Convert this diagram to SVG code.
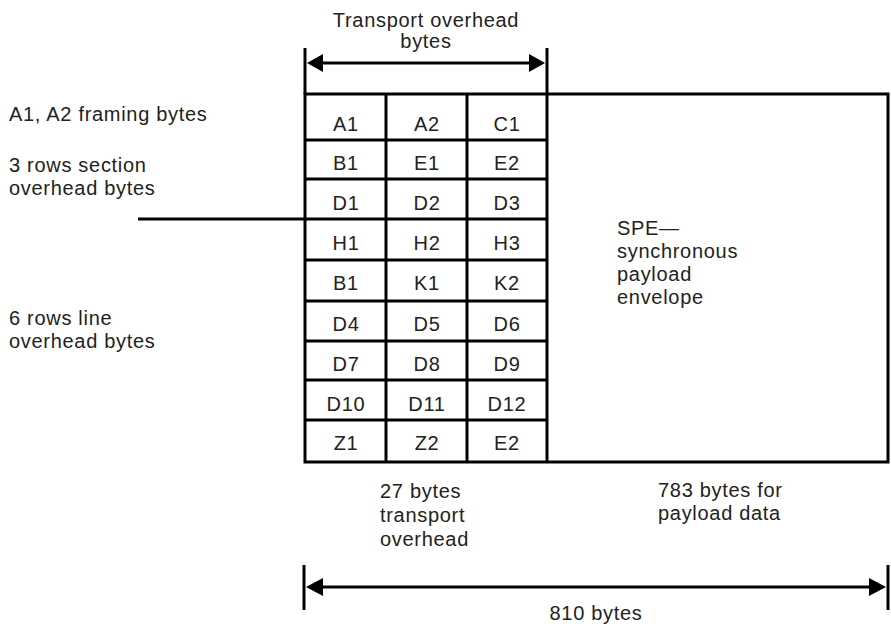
<svg xmlns="http://www.w3.org/2000/svg" width="891" height="624" viewBox="0 0 891 624">
<style>
text{font-family:"Liberation Sans",Arial,Helvetica,sans-serif;font-size:20px;fill:#222;letter-spacing:0.7px}
.c{text-anchor:middle}
.ln{stroke:#000;stroke-width:3;fill:none}
.ah{fill:#000;stroke:none}
</style>
<rect width="891" height="624" fill="#fff"/>
<g id="transport-overhead-label">
<text class="c" x="426" y="27">Transport overhead</text>
<text class="c" x="426" y="48">bytes</text>
</g>
<g id="left-labels">
<text x="9" y="121">A1, A2 framing bytes</text>
<text x="9" y="172">3 rows section</text>
<text x="9" y="195">overhead bytes</text>
<text x="9" y="325">6 rows line</text>
<text x="9" y="348">overhead bytes</text>
</g>
<g id="frame">
<rect class="ln" x="305" y="94" width="583" height="368"/>
<line class="ln" x1="386" y1="94" x2="386" y2="462"/>
<line class="ln" x1="467" y1="94" x2="467" y2="462"/>
<line class="ln" x1="547" y1="94" x2="547" y2="462"/>
<path class="ln" d="M305 140H547M305 179H547M138 219H547M305 260H547M305 301H547M305 341H547M305 380H547M305 420H547"/>
</g>
<g id="cells" class="cells">
<text class="c" x="346" y="131">A1</text><text class="c" x="427" y="131">A2</text><text class="c" x="507" y="131">C1</text>
<text class="c" x="346" y="170">B1</text><text class="c" x="427" y="170">E1</text><text class="c" x="507" y="170">E2</text>
<text class="c" x="346" y="210">D1</text><text class="c" x="427" y="210">D2</text><text class="c" x="507" y="210">D3</text>
<text class="c" x="346" y="250">H1</text><text class="c" x="427" y="250">H2</text><text class="c" x="507" y="250">H3</text>
<text class="c" x="346" y="290">B1</text><text class="c" x="427" y="290">K1</text><text class="c" x="507" y="290">K2</text>
<text class="c" x="346" y="331">D4</text><text class="c" x="427" y="331">D5</text><text class="c" x="507" y="331">D6</text>
<text class="c" x="346" y="371">D7</text><text class="c" x="427" y="371">D8</text><text class="c" x="507" y="371">D9</text>
<text class="c" x="346" y="411">D10</text><text class="c" x="427" y="411">D11</text><text class="c" x="507" y="411">D12</text>
<text class="c" x="346" y="450">Z1</text><text class="c" x="427" y="450">Z2</text><text class="c" x="507" y="450">E2</text>
</g>
<g id="spe">
<text x="617" y="235">SPE—</text>
<text x="617" y="258">synchronous</text>
<text x="617" y="281">payload</text>
<text x="617" y="304">envelope</text>
</g>
<g id="bottom-labels">
<text x="380" y="498">27 bytes</text>
<text x="380" y="522">transport</text>
<text x="380" y="546">overhead</text>
<text x="658" y="497">783 bytes for</text>
<text x="658" y="520">payload data</text>
<text class="c" x="596" y="620">810 bytes</text>
</g>
<g id="connectors">
<line class="ln" x1="305" y1="48" x2="305" y2="94"/>
<line class="ln" x1="547" y1="48" x2="547" y2="94"/>
<line class="ln" x1="318" y1="63" x2="534" y2="63"/>
<polygon class="ah" points="307,63 323,54 323,72"/>
<polygon class="ah" points="545,63 529,54 529,72"/>
<line class="ln" x1="304" y1="565" x2="304" y2="610"/>
<line class="ln" x1="888" y1="565" x2="888" y2="610"/>
<line class="ln" x1="318" y1="587" x2="874" y2="587"/>
<polygon class="ah" points="306,587 323,578 323,596"/>
<polygon class="ah" points="886,587 869,578 869,596"/>
</g>
</svg>
